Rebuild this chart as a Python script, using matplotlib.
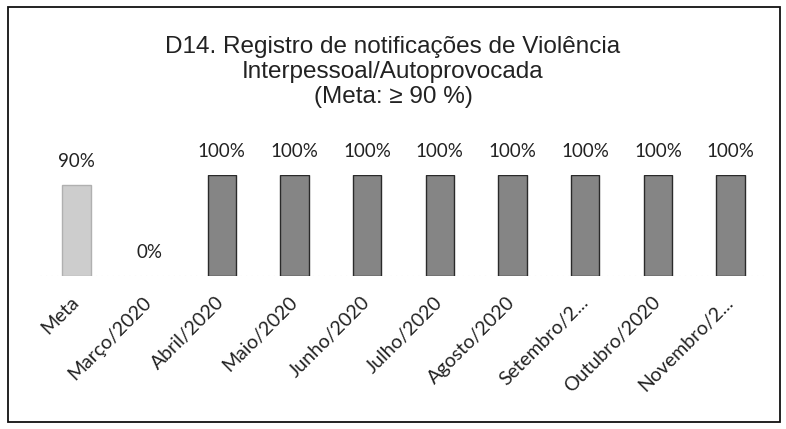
import matplotlib
matplotlib.use("Agg")
import matplotlib.pyplot as plt
from matplotlib.patches import Rectangle

categories = ["Meta", "Março/2020", "Abril/2020", "Maio/2020", "Junho/2020",
              "Julho/2020", "Agosto/2020", "Setembro/2...", "Outubro/2020", "Novembro/2..."]
values = [90, 0, 100, 100, 100, 100, 100, 100, 100, 100]
labels = ["90%", "0%", "100%", "100%", "100%", "100%", "100%", "100%", "100%", "100%"]
title = "D14. Registro de notificações de Violência\nInterpessoal/Autoprovocada\n(Meta: ≥ 90 %)"

fig = plt.figure(figsize=(7.86, 4.29), dpi=100)
ax = fig.add_axes([40/786, 153/429, 727/786, 101/429])

colors = ["#cdcdcd"] + ["#858585"] * (len(values) - 1)
edges = [("none" if v == 0 else ("#b0b0b0" if i == 0 else "#2a2a2a")) for i, v in enumerate(values)]
x = list(range(len(categories)))
ax.bar(x, values, width=0.39, color=colors, edgecolor=edges, linewidth=1.0, zorder=3)
ax.set_xlim(-0.5, len(categories) - 0.5)
ax.set_ylim(0, 100)

for xi, v, lab in zip(x, values, labels):
    ax.annotate(lab, (xi, v), xytext=(0, 17), textcoords="offset points",
                ha="center", va="center", fontsize=13.5, family=["Lato", "DejaVu Sans"],
                color="#222222", annotation_clip=False)

ax.axhline(0, color="#c0c0c0", lw=0.8, ls=(0, (1, 4)), zorder=1)
for s in ax.spines.values():
    s.set_visible(False)
ax.set_yticks([])
ax.set_xticks(x)
ax.set_xticklabels(categories, rotation=45, ha="right", va="center",
                   rotation_mode="anchor", fontsize=14, family=["Lato", "DejaVu Sans"],
                   color="#222222")
ax.tick_params(axis="x", length=0, pad=17)

fig.text(0.5, 1 - 72/429, title, ha="center", va="center", fontsize=17.5,
         family=["Liberation Sans Narrow", "Liberation Sans", "DejaVu Sans"],
         linespacing=1.15, color="#222222")

fig.patches.append(Rectangle((8/786, 7/429), 772/786, 415/429, transform=fig.transFigure,
                             fill=False, edgecolor="#111111", linewidth=1.3))

fig.savefig("out.png", dpi=100)
